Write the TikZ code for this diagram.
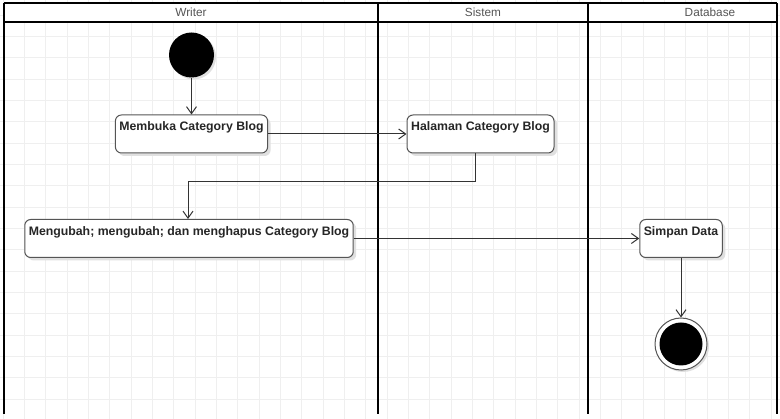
\documentclass[tikz,border=0pt]{standalone}
\usepackage{fontspec}
\setmainfont{Liberation Sans}
\usetikzlibrary{arrows.meta, positioning, shadows}

\definecolor{gridgray}{HTML}{EFEFEF}
\definecolor{linegray}{HTML}{333333}
\definecolor{boxgray}{HTML}{555555}
\definecolor{headgray}{HTML}{555555}

\tikzset{
	gridline/.style={gridgray, line width=0.8pt},
	lane/.style={line width=2pt, black},
	lanehead/.style={font=\fontsize{11.8}{13}\selectfont, text=headgray},
	activity/.style={draw=boxgray, fill=white, rounded corners=6pt, line width=1pt,
		font=\fontsize{12.3}{14}\selectfont\bfseries, text=black!85,
		text height=12pt, text depth=18pt, inner ysep=4pt, inner xsep=4pt,
		drop shadow={shadow xshift=3pt, shadow yshift=-3pt, fill=black!12, opacity=1}},
	startdot/.style={circle, fill=black, minimum size=45pt, inner sep=0pt,
		drop shadow={shadow xshift=2pt, shadow yshift=-2pt, fill=black!12, opacity=1}},
	enddot/.style={circle, draw=boxgray, fill=white, line width=1pt, minimum size=52pt, inner sep=0pt,
		drop shadow={shadow xshift=2pt, shadow yshift=-2pt, fill=black!12, opacity=1}},
	flow/.style={draw=linegray, line width=1pt, -{Straight Barb[length=7pt, width=10pt]}},
}

\begin{document}
\begin{tikzpicture}[x=1pt, y=-1pt]
	
	% parameters
	\def\top{3}        % top of the pool
	\def\head{22}      % bottom of the lane headers
	\def\bot{414}      % bottom of the lanes
	\def\gs{21.333}    % grid step
	
	\useasboundingbox (0,0) rectangle (780,419);
	\fill[white] (0,0) rectangle (780,419);
	
	% background grid
	\foreach \gx in {3,24.333,...,780} \draw[gridline] (\gx,0) -- (\gx,419);
	\foreach \gy in {15,36.333,...,419} \draw[gridline] (0,\gy) -- (780,\gy);
	
	% lane headers
	\fill[white] (4,\top) rectangle (777,\head);
	\node[lanehead] (hwriter) at (191,12.5) {Writer};
	\node[lanehead] (hsistem) at (483,12.5) {Sistem};
	\node[lanehead] (hdatabase) at (710,12.5) {Database};
	
	% lane borders
	\draw[lane] (4,\top) -- (777,\top);
	\draw[lane] (4,\head) -- (777,\head);
	\foreach \lx in {4,378,588,777} \draw[lane] (\lx,\top) -- (\lx,\bot);
	
	% initial node
	\node[startdot] (start) at (191.5,55) {};
	
	% activities
	\node[activity, minimum width=151pt] (membuka) at (191.5,134) {Membuka Category Blog};
	\node[activity, minimum width=147pt] (halaman) at (480.5,134) {Halaman Category Blog};
	\node[activity, minimum width=326pt] (mengubah) at (189,238.5) {Mengubah; mengubah; dan menghapus Category Blog};
	\node[activity, minimum width=82pt] (simpan) at (681,238.5) {Simpan Data};
	
	% final node
	\node[enddot] (final) at (681,344) {};
	\fill[black] (final.center) circle (21.5);
	
	% flows
	\coordinate (turn) at (188,182);
	\draw[flow] (start) -- (membuka);
	\draw[flow] (membuka) -- (halaman);
	\draw[flow] ([xshift=-5.5pt]halaman.south) |- (turn) -- (turn |- mengubah.north);
	\draw[flow] (mengubah) -- (simpan);
	\draw[flow] (simpan) -- (final);
	
\end{tikzpicture}
\end{document}
